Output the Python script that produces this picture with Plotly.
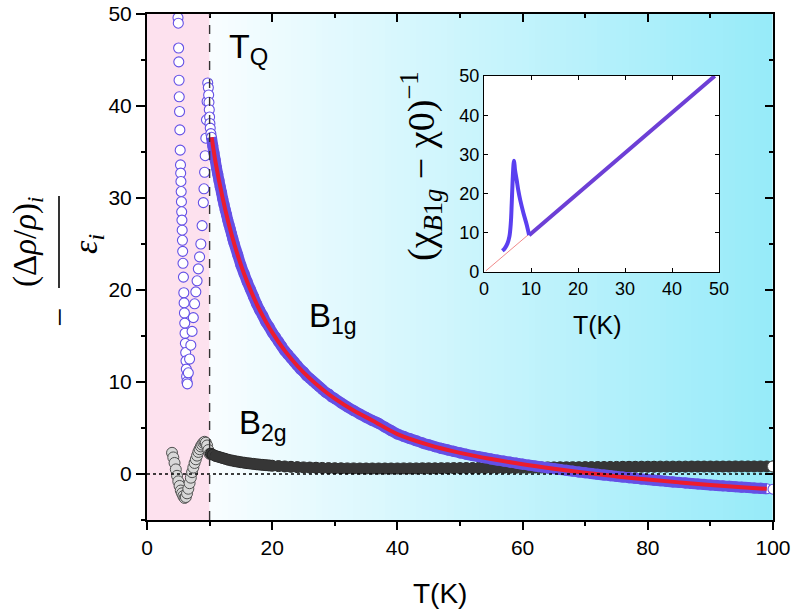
import numpy as np
import plotly.graph_objects as go

# ---------------- data ----------------
# B1g, descending column below T_Q
b1g_T_desc = [4.95, 5.0, 5.05, 5.08, 5.12, 5.15, 5.2, 5.25, 5.3, 5.35, 5.38, 5.42, 5.46, 5.5,
              5.54, 5.58, 5.62, 5.66, 5.7, 5.75, 5.82, 5.88, 5.93, 5.98, 6.03, 6.08, 6.13,
              6.18, 6.23, 6.28, 6.33, 6.38]
b1g_y_desc = [49.6, 49.0, 46.3, 44.8, 42.8, 41.0, 39.4, 37.4, 35.2, 33.6, 32.7, 31.8, 30.7, 29.6,
              28.5, 27.6, 26.5, 25.4, 24.2, 22.9, 21.4, 19.7, 18.6, 17.5, 16.4, 15.3, 14.2,
              13.2, 12.3, 11.4, 10.6, 10.0]
# B1g, ascending branch up to T_Q and the drop just above it
b1g_T_asc = [6.45, 6.6, 6.8, 7.0, 7.2, 7.4, 7.6, 7.8, 8.0, 8.2, 8.4, 8.6, 8.8, 9.0, 9.1, 9.2,
             9.3, 9.4, 9.5, 9.6, 9.7, 9.8, 9.85, 9.9, 9.95, 10.0, 10.05, 10.1, 10.2]
b1g_y_asc = [9.8, 11.0, 12.5, 14.0, 15.5, 17.0, 18.5, 19.8, 21.0, 22.3, 23.6, 25.0, 27.0, 29.5,
             31.0, 32.8, 34.6, 36.5, 38.5, 40.5, 42.5, 42.0, 41.2, 40.4, 39.6, 38.8, 38.1,
             37.6, 37.0]
# B1g above T_Q
b1g_T_main = [10.3, 10.5, 10.7, 10.9, 11.1, 11.3, 11.5, 11.7, 11.9, 12.1, 12.3, 12.5, 12.7,
              12.9, 13.1, 13.3, 13.5, 13.7, 13.9,
              14.5, 15.0, 15.5, 16.0, 16.5, 17.0, 17.5, 18.0, 18.5, 19.0, 19.5, 20.0, 20.5,
              21.0, 21.5, 22.0, 22.5, 23.0, 23.5, 24.0, 24.5, 25.0, 25.5, 26.0, 26.5, 27.0,
              27.5, 28.0, 28.5, 29.0, 29.5, 30.0,
              31, 32, 33, 34, 35, 36, 37, 38, 39, 40, 41, 42, 43, 44, 45, 46, 47, 48, 49, 50,
              51, 52, 53, 54, 55, 56, 57, 58, 59, 60, 61, 62, 63, 64, 65, 66, 67, 68, 69, 70,
              71, 72, 73, 74, 75, 76, 77, 78, 79, 80, 81, 82, 83, 84, 85, 86, 87, 88, 89, 90,
              91, 92, 93, 94, 95, 96, 97, 98, 99, 100]
b1g_y_main = [36.6, 35.7, 34.9, 34.1, 33.3, 32.6, 31.9, 31.2, 30.6, 29.9, 29.3, 28.7, 28.2,
              27.6, 27.1, 26.6, 26.1, 25.6, 25.1,
              23.8, 22.7, 21.8, 20.9, 20.1, 19.3, 18.5, 17.8, 17.2, 16.5, 16.0, 15.4, 14.9,
              14.4, 13.9, 13.4, 13.0, 12.6, 12.2, 11.8, 11.4, 11.1, 10.7, 10.4, 10.1, 9.8,
              9.5, 9.2, 8.9, 8.7, 8.4, 8.2,
              7.73, 7.30, 6.90, 6.52, 6.16, 5.82, 5.50, 5.10, 4.72, 4.34, 4.09, 3.84, 3.61,
              3.38, 3.17, 2.97, 2.79, 2.62, 2.46, 2.30,
              2.15, 2.01, 1.88, 1.76, 1.63, 1.51, 1.40, 1.29, 1.18, 1.07,
              0.97, 0.87, 0.77, 0.67, 0.58, 0.49, 0.40, 0.31, 0.22, 0.14,
              0.05, -0.03, -0.11, -0.18, -0.26, -0.33, -0.40, -0.47, -0.54, -0.61,
              -0.67, -0.73, -0.80, -0.86, -0.91, -0.97, -1.03, -1.08, -1.13, -1.19,
              -1.24, -1.29, -1.34, -1.38, -1.43, -1.47, -1.52, -1.56, -1.61, -1.65]
# fit (red line)
fit_T = [10.33, 11, 12, 13, 14, 15, 16, 17, 18, 20, 22, 24, 26, 28, 30, 33, 36, 40, 45, 50,
         55, 60, 65, 70, 75, 80, 85, 90, 95, 99]
fit_y = [36.6, 33.7, 30.25, 27.34, 24.87, 22.74, 20.89, 19.26, 17.82, 15.39, 13.41, 11.77,
         10.39, 9.21, 8.19, 6.90, 5.82, 4.34, 3.17, 2.30, 1.63, 1.07, 0.58, 0.14, -0.26,
         -0.61, -0.91, -1.19, -1.43, -1.61]
# B2g below T_Q
b2g_T_low = [4.0, 4.2, 4.4, 4.6, 4.8, 5.0, 5.2, 5.4, 5.6, 5.8, 6.0, 6.2, 6.4, 6.6, 6.8, 7.0,
             7.2, 7.4, 7.6, 7.8, 8.0, 8.2, 8.4, 8.6, 8.8, 9.0, 9.2, 9.4, 9.6, 9.8, 10.0]
b2g_y_low = [2.3, 1.8, 1.2, 0.5, -0.2, -0.8, -1.3, -1.8, -2.1, -2.4, -2.6, -2.5, -2.1, -1.6,
             -1.0, -0.4, 0.2, 0.7, 1.2, 1.6, 2.0, 2.4, 2.7, 3.0, 3.2, 3.4, 3.5, 3.4, 3.1, 2.6,
             2.2]
# B2g above T_Q
b2g_T_main = [10.2, 10.5, 11, 11.5, 12, 12.5, 13, 13.5, 14, 14.5, 15, 15.5, 16, 16.5, 17, 17.5,
              18, 18.5, 19, 19.5,
              20, 21, 22, 23, 24, 25, 26, 27, 28, 29, 30, 31, 32, 33, 34, 35, 36, 37, 38, 39,
              40, 41, 42, 43, 44, 45, 46, 47, 48, 49, 50, 51, 52, 53, 54, 55, 56, 57, 58, 59,
              60, 61, 62, 63, 64, 65, 66, 67, 68, 69, 70, 71, 72, 73, 74, 75, 76, 77, 78, 79,
              80, 81, 82, 83, 84, 85, 86, 87, 88, 89, 90, 91, 92, 93, 94, 95, 96, 97, 98, 99,
              100]
b2g_y_main = [2.2, 2.1, 1.95, 1.85, 1.75, 1.65, 1.55, 1.47, 1.4, 1.34, 1.28, 1.23, 1.18, 1.14,
              1.1, 1.06, 1.02, 0.99, 0.96, 0.93,
              0.90, 0.86, 0.82, 0.78, 0.75, 0.72, 0.70, 0.68, 0.66, 0.64, 0.63, 0.62, 0.61,
              0.61, 0.60, 0.60, 0.60, 0.60, 0.60, 0.60,
              0.60, 0.61, 0.61, 0.61, 0.62, 0.62, 0.62, 0.63, 0.63, 0.64, 0.64,
              0.65, 0.65, 0.66, 0.66, 0.67, 0.67, 0.68, 0.68, 0.69,
              0.70, 0.70, 0.71, 0.71, 0.72, 0.72, 0.73, 0.73, 0.74, 0.74,
              0.75, 0.75, 0.76, 0.76, 0.77, 0.77, 0.78, 0.78, 0.78, 0.79,
              0.79, 0.79, 0.80, 0.80, 0.80, 0.80, 0.80, 0.81, 0.81, 0.81,
              0.81, 0.81, 0.81, 0.81, 0.82, 0.82, 0.82, 0.82, 0.82, 0.82, 0.82]
# inset
inset_low_T = [3.9, 4.4, 5.0, 5.4, 5.7, 5.9, 6.1, 6.3, 6.4, 6.6, 6.95, 7.3, 7.7, 8.4, 9.1, 9.6]
inset_low_y = [5.4, 6.0, 7.3, 9.0, 12.4, 17.5, 23.5, 27.7, 28.4, 26.0, 23.5, 20.8, 18.4, 15.0,
               12.0, 9.4]
inset_high_T = [9.6, 15, 20, 25, 30, 35, 40, 45, 49.1]
inset_high_y = [9.4, 15.0, 20.1, 25.2, 30.4, 35.5, 40.7, 45.8, 50.0]
inset_fit_T = [0.4, 49.1]
inset_fit_y = [0.3, 50.0]

T_Q = 10
x_ticks = [0, 20, 40, 60, 80, 100]
y_ticks = [0, 10, 20, 30, 40, 50]
inset_ticks = [0, 10, 20, 30, 40, 50]

# ---------------- styles ----------------
PURPLE = "#6450e6"
RED = "#ec1c2e"
FONT = "Arial, Liberation Sans, sans-serif"
SERIF = "Liberation Serif, DejaVu Serif, serif"

fig = go.Figure()

# background gradient above T_Q
gx = np.arange(10, 101, 1.0)
gz = [list(np.linspace(0, 1, len(gx) - 1))]
fig.add_trace(go.Heatmap(x=gx, y=[-5, 50], z=gz, zmin=0, zmax=1,
                         colorscale=[[0, "#f8fdff"], [1, "#97ebf9"]],
                         showscale=False, hoverinfo="skip"))

# B2g
fig.add_trace(go.Scatter(x=b2g_T_low, y=b2g_y_low, mode="markers",
                         marker=dict(size=11, color="#d8d8d8", line=dict(color="#505050", width=1)),
                         showlegend=False))
fig.add_trace(go.Scatter(x=b2g_T_main, y=b2g_y_main, mode="markers",
                         marker=dict(size=11, color="#3a3a3a", line=dict(color="#262626", width=1)),
                         showlegend=False))
fig.add_trace(go.Scatter(x=b2g_T_main[:-1], y=b2g_y_main[:-1], mode="lines",
                         line=dict(color="#363636", width=10, shape="spline"),
                         showlegend=False))
fig.add_trace(go.Scatter(x=[b2g_T_main[-1]], y=[b2g_y_main[-1]], mode="markers",
                         marker=dict(size=11, color="white", line=dict(color="#555", width=1)),
                         showlegend=False))

# B1g
b1g_T_all = b1g_T_desc + b1g_T_asc + b1g_T_main
b1g_y_all = b1g_y_desc + b1g_y_asc + b1g_y_main
fig.add_trace(go.Scatter(x=b1g_T_all, y=b1g_y_all, mode="markers",
                         marker=dict(size=10, color="white", line=dict(color=PURPLE, width=1.1)),
                         showlegend=False))
fig.add_trace(go.Scatter(x=b1g_T_main[:-1], y=b1g_y_main[:-1], mode="lines",
                         line=dict(color=PURPLE, width=11, shape="spline"),
                         showlegend=False))
fig.add_trace(go.Scatter(x=fit_T, y=fit_y, mode="lines",
                         line=dict(color=RED, width=4, shape="spline"),
                         showlegend=False))

# overlay axes for inward ticks on top / right
fig.add_trace(go.Scatter(x=[None], y=[None], xaxis="x3", yaxis="y3", showlegend=False,
                         hoverinfo="skip"))

# inset traces
fig.add_trace(go.Scatter(x=inset_fit_T, y=inset_fit_y, mode="lines", xaxis="x2", yaxis="y2",
                         line=dict(color="#f08a8a", width=1), showlegend=False))
fig.add_trace(go.Scatter(x=inset_high_T, y=inset_high_y, mode="lines", xaxis="x2", yaxis="y2",
                         line=dict(color="#6d3fd6", width=4), showlegend=False))
fig.add_trace(go.Scatter(x=inset_low_T, y=inset_low_y, mode="lines", xaxis="x2", yaxis="y2",
                         line=dict(color="#5a3ff0", width=4, shape="spline"), showlegend=False))

# ---------------- layout ----------------
# target pixel box of the main plot area (page coordinates)
L, R, TOP, BOT = 147, 773, 14, 520
W, H = 793, 611
pw, ph = R - L, BOT - TOP

def px_x(p):
    return (p - L) / pw

def px_y(p):
    return (BOT - p) / ph

axis_common = dict(showgrid=False, zeroline=False, showline=True, linecolor="black",
                   linewidth=2, tickcolor="black", tickwidth=1.6, automargin=False,
                   ticklabeloverflow="allow")

fig.update_layout(
    width=W, height=H,
    margin=dict(l=L, r=W - R, t=TOP, b=H - BOT, pad=0, autoexpand=False),
    paper_bgcolor="white", plot_bgcolor="white",
    font=dict(family=FONT, color="black"),
    xaxis=dict(range=[0, 100], tickvals=x_ticks, ticks="outside", ticklen=8,
               minor=dict(ticks="outside", ticklen=4, dtick=10, tickcolor="black", tickwidth=1.6),
               tickfont=dict(size=21, family=FONT), **axis_common),
    yaxis=dict(range=[-5, 50], tickvals=y_ticks, ticks="outside", ticklen=9,
               minor=dict(ticks="outside", ticklen=4, dtick=5, tick0=0, tickcolor="black",
                          tickwidth=1.6),
               tickfont=dict(size=21, family=FONT), **axis_common),
    xaxis3=dict(range=[0, 100], overlaying="x", side="top", tickvals=x_ticks, ticks="inside",
                ticklen=8, showticklabels=False,
                minor=dict(ticks="inside", ticklen=4, dtick=10, tickcolor="black", tickwidth=1.6),
                **axis_common),
    yaxis3=dict(range=[-5, 50], overlaying="y", side="right", tickvals=y_ticks, ticks="inside",
                ticklen=8, showticklabels=False,
                minor=dict(ticks="inside", ticklen=4, dtick=5, tick0=0, tickcolor="black",
                           tickwidth=1.6),
                **axis_common),
    xaxis2=dict(domain=[px_x(484), px_x(719)], anchor="y2", range=[0, 50], tickvals=inset_ticks,
                ticks="inside", ticklen=4, mirror="ticks", showgrid=False, zeroline=False,
                showline=True, linecolor="black", linewidth=1.3, tickcolor="black",
                automargin=False, tickfont=dict(size=18, family=FONT)),
    yaxis2=dict(domain=[px_y(272), px_y(76)], anchor="x2", range=[0, 50], tickvals=inset_ticks,
                ticks="inside", ticklen=4, mirror="ticks", showgrid=False, zeroline=False,
                showline=True, linecolor="black", linewidth=1.3, tickcolor="black",
                automargin=False, tickfont=dict(size=18, family=FONT)),
    showlegend=False,
)

shapes = [
    dict(type="rect", xref="x", yref="y", x0=0, x1=T_Q, y0=-5, y1=50, fillcolor="#fde1ee",
         line=dict(width=0), layer="below"),
    dict(type="rect", xref="x2 domain", yref="y2 domain", x0=0, x1=1, y0=0, y1=1,
         fillcolor="white", line=dict(width=0), layer="below"),
    dict(type="line", xref="x", yref="y", x0=0, x1=100, y0=0, y1=0,
         line=dict(color="black", width=1.4, dash="dot"), layer="above"),
    dict(type="line", xref="x", yref="y", x0=T_Q, x1=T_Q, y0=-5, y1=50,
         line=dict(color="#333333", width=1.4, dash="dash"), layer="above"),
    # fraction bar of the y-axis title
    dict(type="line", xref="paper", yref="paper", x0=px_x(59), x1=px_x(59),
         y0=px_y(288), y1=px_y(196), line=dict(color="black", width=1.6)),
]
fig.update_layout(shapes=shapes)

ann = [
    dict(x=px_x(440), y=px_y(593), xref="paper", yref="paper", text="T(K)", showarrow=False,
         font=dict(size=28, family=FONT), xanchor="center", yanchor="middle"),
    dict(x=px_x(597), y=px_y(325), xref="paper", yref="paper", text="T(K)", showarrow=False,
         font=dict(size=25, family=FONT), xanchor="center", yanchor="middle"),
    dict(x=px_x(421), y=px_y(166), xref="paper", yref="paper",
         text="(χ<sub><i>B</i>1<i>g</i></sub> − χ0)<sup>−1</sup>", textangle=-90,
         showarrow=False, font=dict(size=38, family=SERIF), xanchor="center", yanchor="middle"),
    dict(x=12.8, y=46.3, xref="x", yref="y", text="T<sub>Q</sub>", showarrow=False,
         font=dict(size=34, family=FONT), xanchor="left", yanchor="middle"),
    dict(x=25.6, y=17.0, xref="x", yref="y", text="B<sub>1g</sub>", showarrow=False,
         font=dict(size=33, family=FONT), xanchor="left", yanchor="middle"),
    dict(x=14.4, y=5.3, xref="x", yref="y", text="B<sub>2g</sub>", showarrow=False,
         font=dict(size=33, family=FONT), xanchor="left", yanchor="middle"),
    # y-axis title: - (Δρ/ρ)_i / ε_i
    dict(x=px_x(28), y=px_y(242), xref="paper", yref="paper",
         text="(Δ<i>ρ</i>/<i>ρ</i>)<sub><i>i</i></sub>", textangle=-90, showarrow=False,
         font=dict(size=33, family=SERIF), xanchor="center", yanchor="middle"),
    dict(x=px_x(88), y=px_y(244), xref="paper", yref="paper",
         text="<i>ε<sub>i</sub></i>", textangle=-90, showarrow=False,
         font=dict(size=34, family=SERIF), xanchor="center", yanchor="middle"),
    dict(x=px_x(59), y=px_y(318), xref="paper", yref="paper",
         text="−", textangle=-90, showarrow=False,
         font=dict(size=34, family=SERIF), xanchor="center", yanchor="middle"),
]
fig.update_layout(annotations=ann)

fig.write_html("out.html", config={"displayModeBar": False},
               post_script="document.body.style.margin='0px';")
